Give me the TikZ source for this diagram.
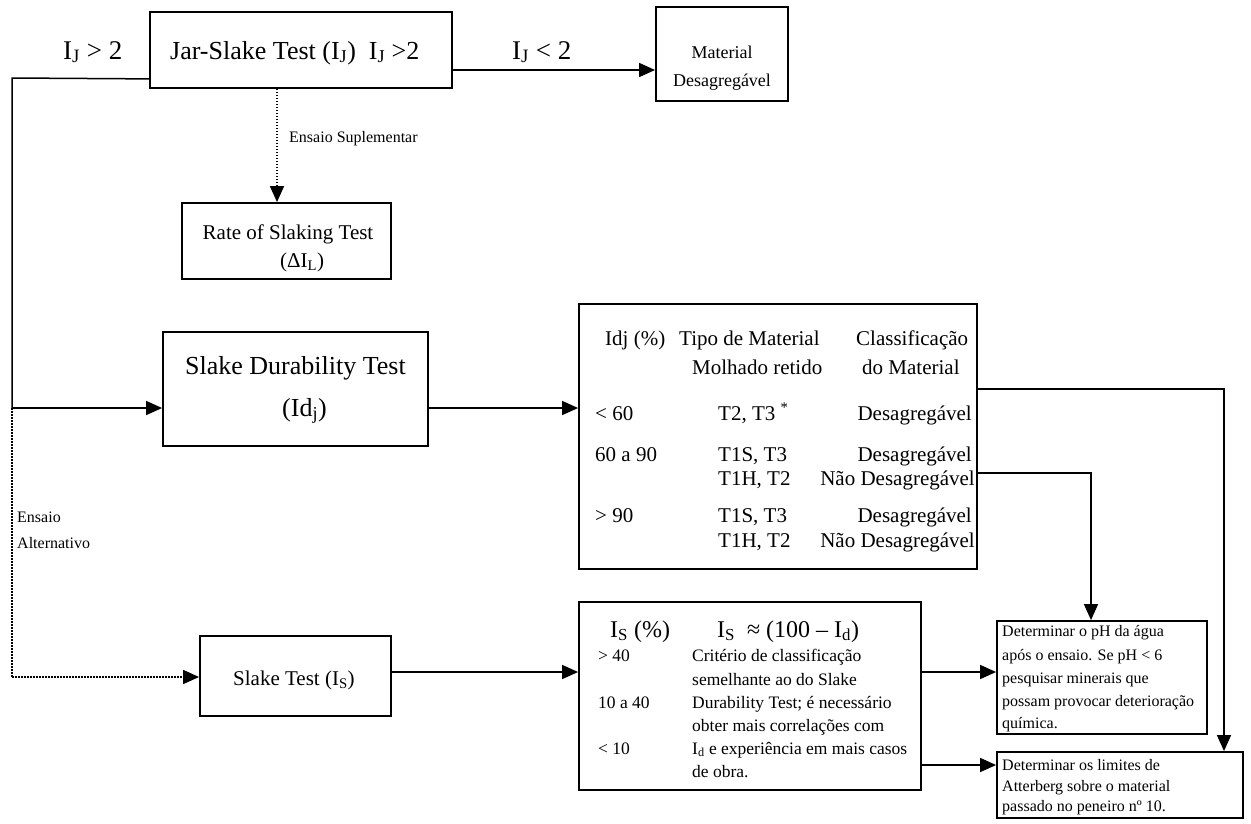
\documentclass[tikz,border=0pt]{standalone}
\usepackage{fontspec}
\setmainfont{Liberation Serif}
\usetikzlibrary{arrows.meta}
\newcommand{\fs}[1]{\fontsize{#1}{#1}\selectfont}
\begin{document}
\begin{tikzpicture}[x=1pt,y=-1pt,
  box/.style={draw, line width=1.8pt, inner sep=0pt},
  conn/.style={line width=1.5pt},
  arr/.style={line width=1.5pt, -{Triangle[length=16pt,width=14pt]}},
  dotarr/.style={line width=1.5pt, dash pattern=on 1.5pt off 1.5pt, -{Triangle[length=16pt,width=14pt]}},
  dotline/.style={line width=1.5pt, dash pattern=on 1.5pt off 1.5pt},
  txt/.style={inner sep=0pt, anchor=base west},
  txte/.style={inner sep=0pt, anchor=base east},
]
\useasboundingbox (0,0) rectangle (1251,823);
% boxes
\node[box, minimum width=302pt, minimum height=76pt] (Jar) at (301,50) {};
\node[box, minimum width=132pt, minimum height=94pt] (Mat) at (722,54) {};
\node[box, minimum width=209pt, minimum height=76pt] (Rate) at (286.5,241) {};
\node[box, minimum width=265pt, minimum height=114pt] (SDT) at (295.5,389) {};
\node[box, minimum width=398pt, minimum height=265pt] (Class) at (778,436.5) {};
\node[box, minimum width=191pt, minimum height=80pt] (ST) at (295.5,676) {};
\node[box, minimum width=342pt, minimum height=188pt] (IS) at (750,696) {};
\node[box, minimum width=210pt, minimum height=113pt] (pH) at (1102,677.5) {};
\node[box, minimum width=246pt, minimum height=66pt] (Att) at (1120,785) {};

% texts
\node[txt, font=\fs{26}] (tJar) at (170,59) {Jar-Slake Test (I\textsubscript{J})\ \ I\textsubscript{J} >2};
\node[txt, font=\fs{27}] (lgt) at (63,59) {I\textsubscript{J} > 2};
\node[txt, font=\fs{27}] (llt) at (512,59) {I\textsubscript{J} < 2};
\node[anchor=base, inner sep=0pt, font=\fs{18}] (tMat1) at (722,58) {Material};
\node[anchor=base, inner sep=0pt, font=\fs{18}] (tMat2) at (722,86) {Desagregável};
\node[txt, font=\fs{16}] (tSup) at (289,142) {Ensaio Suplementar};
\node[anchor=base, inner sep=0pt, font=\fs{21}] (tRate1) at (288,239) {Rate of Slaking Test};
\node[txt, font=\fs{21}] (tRate2) at (280,267) {(ΔI\textsubscript{L})};
\node[txt, font=\fs{26}] (tSDT1) at (185,374) {Slake Durability Test};
\node[txt, font=\fs{26}] (tSDT2) at (282,416) {(Id\textsubscript{j})};
\node[txt, font=\fs{16}] (tAlt1) at (17,522) {Ensaio};
\node[txt, font=\fs{16}] (tAlt2) at (17,548) {Alternativo};
\node[txt, font=\fs{21}] (tST) at (233,685) {Slake Test (I\textsubscript{S})};

% classification table
\begin{scope}[every node/.style={font=\fs{21}}]
\node[txt] (h1) at (605,345) {Idj (\%)};
\node[txt] (h2) at (679,345) {Tipo de Material};
\node[txt] (h3) at (856,345) {Classificação};
\node[txt] (h2b) at (692,374) {Molhado retido};
\node[txt] (h3b) at (862,374) {do Material};
\node[txt] (r1a) at (595,420) {< 60};
\node[txt] (r1b) at (718,420) {T2, T3 \textsuperscript{*}};
\node[txte] (r1c) at (972,420) {Desagregável};
\node[txt] (r2a) at (595,461) {60 a 90};
\node[txt] (r2b) at (718,461) {T1S, T3};
\node[txte] (r2c) at (972,461) {Desagregável};
\node[txt] (r3b) at (718,485) {T1H, T2};
\node[txte] (r3c) at (975,485) {Não Desagregável};
\node[txt] (r4a) at (595,522) {> 90};
\node[txt] (r4b) at (718,522) {T1S, T3};
\node[txte] (r4c) at (972,522) {Desagregável};
\node[txt] (r5b) at (718,547) {T1H, T2};
\node[txte] (r5c) at (975,547) {Não Desagregável};
\end{scope}

% IS table
\node[txt, font=\fs{24}] (ih1) at (610,637) {I\textsubscript{S} (\%)};
\node[txt, font=\fs{24}] (ih2) at (717,637) {I\textsubscript{S}\ \ ≈ (100 – I\textsubscript{d})};
\begin{scope}[every node/.style={font=\fs{17.5}}]
\node[txt] (il1) at (598,661) {> 40};
\node[txt] (il2) at (598,708) {10 a 40};
\node[txt] (il3) at (598,754) {< 10};
\node[txt] (ir1) at (692,661) {Critério de classificação};
\node[txt] (ir2) at (692,685) {semelhante ao do Slake};
\node[txt] (ir3) at (692,708) {Durability Test; é necessário};
\node[txt] (ir4) at (692,731) {obter mais correlações com};
\node[txt] (ir5) at (692,754) {I\textsubscript{d} e experiência em mais casos};
\node[txt] (ir6) at (692,777) {de obra.};
\end{scope}

% pH box text
\begin{scope}[every node/.style={font=\fs{16}}]
\node[txt] (p1) at (1002,636) {Determinar o pH da água};
\node[txt] (p2) at (1002,660) {após o ensaio. Se pH < 6};
\node[txt] (p3) at (1002,683) {pesquisar minerais que};
\node[txt] (p4) at (1002,706) {possam provocar deterioração};
\node[txt] (p5) at (1002,728) {química.};
\node[txt] (a1) at (1002,770) {Determinar os limites de};
\node[txt] (a2) at (1002,791) {Atterberg sobre o material};
\node[txt] (a3) at (1002,811) {passado no peneiro nº 10.};
\end{scope}

% coordinates
\coordinate (c1) at (12,78);
\coordinate (c2) at (12,408);
\coordinate (c3) at (12,677);
\coordinate (y70) at (0,70);
\coordinate (x277) at (277,0);
\coordinate (y672) at (0,672);
\coordinate (y765) at (0,765);
\coordinate (k1) at (1091,473);
\coordinate (k2) at (1224,389);

% connectors
\draw[conn] ([yshift=10pt]Jar.south west) -- (c1) -- (c2);
\draw[arr] (c2) -- (SDT.west |- c2);
\draw[dotline] (c2) -- (c3);
\draw[dotarr] (c3) -- (ST.west |- c3);
\draw[arr] (Jar.east |- y70) -- (Mat.west |- y70);
\draw[dotarr] (Jar.south -| x277) -- (Rate.north -| x277);
\draw[arr] (SDT.east |- c2) -- (Class.west |- c2);
\draw[arr] (ST.east |- y672) -- (IS.west |- y672);
\draw[arr] (IS.east |- y672) -- (pH.west |- y672);
\draw[arr] (IS.east |- y765) -- (Att.west |- y765);
\draw[arr] (Class.east |- k1) -- (k1) -- (pH.north -| k1);
\draw[arr] (Class.east |- k2) -- (k2) -- (Att.north -| k2);
\end{tikzpicture}
\end{document}
